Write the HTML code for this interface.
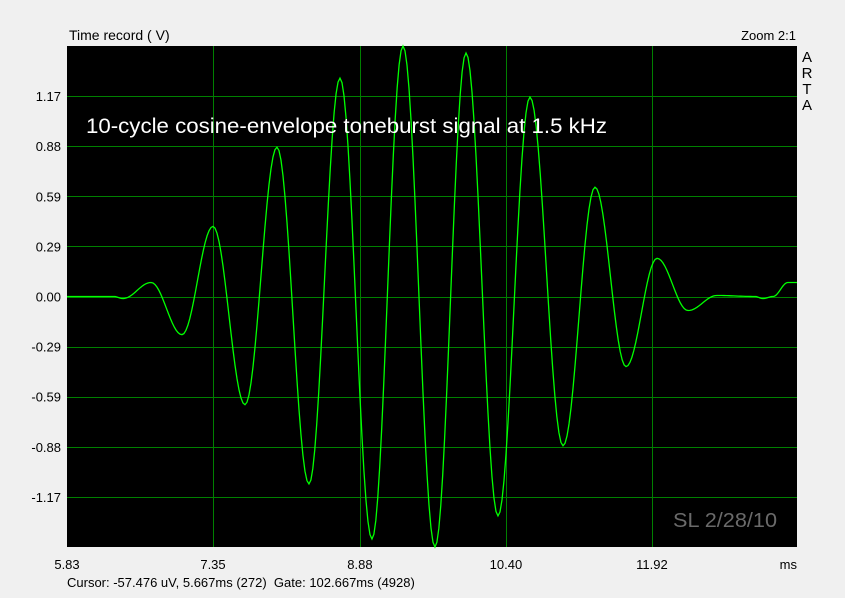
<!DOCTYPE html>
<html><head><meta charset="utf-8"><style>
body{margin:0;background:#f0f0f0;}
svg{display:block;font-family:"Liberation Sans",sans-serif;}
</style></head><body>
<svg id="chart" width="845" height="598" viewBox="0 0 845 598">
<rect x="0" y="0" width="845" height="598" fill="#f0f0f0"/>
<text x="69" y="40" font-size="14" fill="#000">Time record ( V)</text>
<text x="796" y="40" font-size="13" text-anchor="end" fill="#000">Zoom 2:1</text>
<g font-size="15" fill="#000" text-anchor="middle">
<text x="807" y="62">A</text><text x="807" y="78">R</text><text x="807" y="94">T</text><text x="807" y="110">A</text>
</g>
<rect x="67" y="46" width="730" height="501" fill="#000"/>
<g id="grid"></g>
<g id="xticks"></g>
<g id="yticks"></g>
<text x="797" y="569" font-size="13" text-anchor="end" fill="#000">ms</text>
<path id="signal" fill="none" stroke="#00ff00" stroke-width="1.3"/>
<text x="86" y="133" font-size="21" fill="#fff" textLength="521" lengthAdjust="spacingAndGlyphs">10-cycle cosine-envelope toneburst signal at 1.5 kHz</text>
<text x="673" y="527" font-size="20" fill="#6a6a6a" textLength="104" lengthAdjust="spacingAndGlyphs">SL 2/28/10</text>
<text x="67" y="587" font-size="13" fill="#000">Cursor: -57.476 uV, 5.667ms (272)&#160; Gate: 102.667ms (4928)</text>
</svg>
<script>
const xTickLabels=["5.83","7.35","8.88","10.40","11.92"];
const xTickValues=[5.83,7.35,8.88,10.40,11.92];
const yTickLabels=["1.17","0.88","0.59","0.29","0.00","-0.29","-0.59","-0.88","-1.17"];
const yTickValues=[1.172,0.879,0.586,0.293,0,-0.293,-0.586,-0.879,-1.172];
const timeMs=[5.83,6.319,6.413,6.705,7.027,7.350,7.683,8.016,8.349,8.672,9.005,9.328,9.661,9.984,10.317,10.650,10.994,11.327,11.650,11.973,12.296,12.597,12.993,13.076,13.180,13.336,13.43];
const volts=[0,0,-0.012,0.082,-0.223,0.410,-0.633,0.873,-1.096,1.277,-1.418,1.465,-1.465,1.424,-1.283,1.166,-0.873,0.639,-0.410,0.223,-0.082,0.006,0,-0.012,0,0.082,0.082];
const X0=67,X1=797,Y0=46,Y1=547,TMIN=5.83,TMAX=13.43,VMAX=1.465,VMIN=-1.465;
const sx=t=>X0+(t-TMIN)/(TMAX-TMIN)*(X1-X0);
const sy=v=>Y0+(VMAX-v)/(VMAX-VMIN)*(Y1-Y0);
const NS="http://www.w3.org/2000/svg";
const grid=document.getElementById('grid'),xt=document.getElementById('xticks'),yt=document.getElementById('yticks');
function line(x1,y1,x2,y2){const l=document.createElementNS(NS,'line');l.setAttribute('x1',x1);l.setAttribute('y1',y1);l.setAttribute('x2',x2);l.setAttribute('y2',y2);l.setAttribute('stroke','#008000');l.setAttribute('stroke-width','1');return l;}
xTickValues.forEach((v,i)=>{const x=Math.round(sx(v))+0.5;
 if(i>0){const l=line(x,Y0,x,Y1);
 
 grid.appendChild(l);}
 const t=document.createElementNS(NS,'text');t.setAttribute('x',sx(v));t.setAttribute('y',569);t.setAttribute('font-size','13');t.setAttribute('text-anchor','middle');t.textContent=xTickLabels[i];
 
 xt.appendChild(t);});
yTickValues.forEach((v,i)=>{const y=Math.round(sy(v))+0.5;
 const l=line(X0,y,X1,y);
 
 grid.appendChild(l);
 const t=document.createElementNS(NS,'text');t.setAttribute('x',61);t.setAttribute('y',sy(v)+5);t.setAttribute('font-size','13');t.setAttribute('text-anchor','end');t.textContent=yTickLabels[i];
 
 yt.appendChild(t);});
let d="M"+sx(timeMs[0]).toFixed(2)+","+sy(volts[0]).toFixed(2);
for(let i=0;i<timeMs.length-1;i++){const ta=timeMs[i],tb=timeMs[i+1],va=volts[i],vb=volts[i+1];
 for(let k=1;k<=16;k++){const f=k/16,w=(1-Math.cos(Math.PI*f))/2;
 d+=" L"+sx(ta+(tb-ta)*f).toFixed(2)+","+sy(va+(vb-va)*w).toFixed(2);}}
document.getElementById('signal').setAttribute('d',d);
</script>
</body></html>
